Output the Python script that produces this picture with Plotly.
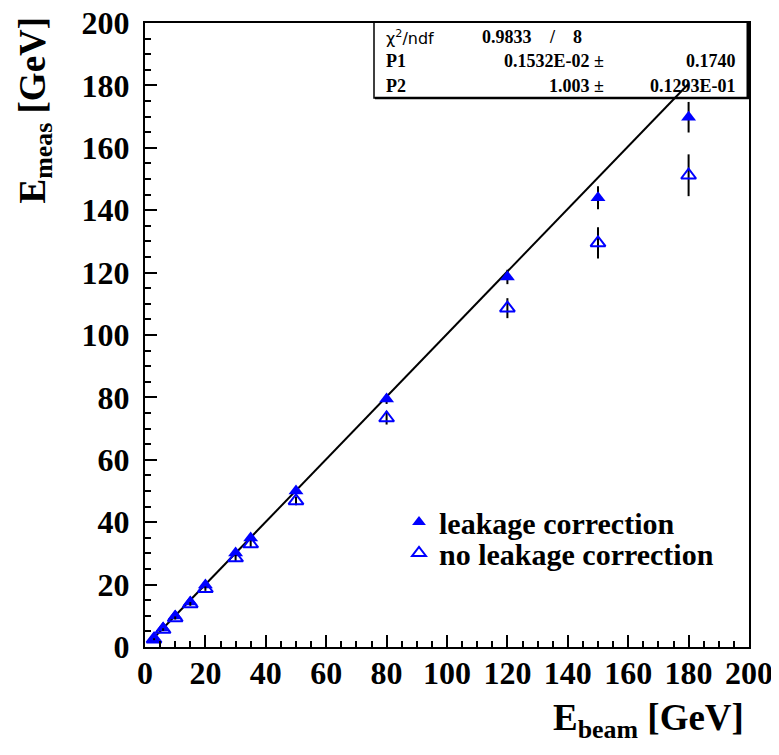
import numpy as np
import plotly.graph_objects as go

# ---- data ----
e_beam = [3, 6, 10, 15, 20, 30, 35, 50, 80, 120, 150, 180]
e_leak = [2.6, 6.1, 9.9, 14.4, 19.9, 30.1, 34.9, 50.0, 79.5, 118.6, 144.0, 169.8]
err_leak = [0.3, 0.3, 0.4, 0.5, 0.6, 0.8, 0.9, 1.1, 1.6, 2.3, 3.7, 4.9]
e_noleak = [2.5, 5.6, 9.3, 13.8, 18.7, 28.5, 33.0, 46.8, 73.4, 108.6, 129.5, 151.2]
err_noleak = [0.3, 0.4, 0.5, 0.6, 0.7, 1.0, 1.1, 1.4, 2.1, 3.2, 5.0, 6.7]

fit_p1 = 0.1532e-02
fit_p2 = 1.003
fit_range = [2, 180]

legend_names = ["leakage correction", "no leakage correction"]
stats_rows = [
    ["χ<sup>2</sup>/ndf", "0.9833", "/", "8"],
    ["P1", "0.1532E-02 ±", "0.1740"],
    ["P2", "1.003 ±", "0.1293E-01"],
]

# ---- layout helpers (screen pixel -> paper) ----
OFF = 8  # page body offset
W, H = 779, 755
L, R, T, B = 145, 749, 23, 647
def px(x):
    return (x - L) / (R - L)
def py(y):
    return (B - y) / (B - T)

SERIF = "Liberation Serif, Times New Roman, Times, serif"
BLUE = "rgb(0,0,255)"

fig = go.Figure()

fx = np.linspace(fit_range[0], fit_range[1], 50)
fig.add_trace(go.Scatter(x=fx, y=fit_p1 + fit_p2 * fx, mode="lines",
                         line=dict(color="black", width=2), showlegend=False,
                         hoverinfo="skip"))

fig.add_trace(go.Scatter(
    x=e_beam, y=e_leak, mode="markers", name=legend_names[0], legend="legend",
    marker=dict(symbol="triangle-up", size=13, color=BLUE),
    error_y=dict(type="data", array=err_leak, color="black", thickness=2, width=0),
))
fig.add_trace(go.Scatter(
    x=e_beam, y=e_noleak, mode="markers", name=legend_names[1], legend="legend2",
    marker=dict(symbol="triangle-up-open", size=13, color=BLUE,
                line=dict(width=2, color=BLUE)),
    error_y=dict(type="data", array=err_noleak, color="black", thickness=2, width=0),
))

axis_common = dict(
    range=[0, 200], dtick=20, ticks="inside", ticklen=12, tickwidth=1.5,
    tickcolor="black", showline=True, linecolor="black", linewidth=2,
    mirror=True, showgrid=False, zeroline=False, automargin=False,
    ticklabeloverflow="allow",
    tickfont=dict(family=SERIF, size=32, color="black", weight="bold"),
    minor=dict(dtick=5, ticks="inside", ticklen=6, tickwidth=1.5, tickcolor="black"),
)

legend_common = dict(xanchor="left", yanchor="middle", bgcolor="rgba(0,0,0,0)",
                     itemsizing="constant",
                     font=dict(family=SERIF, size=30, color="black", weight="bold"))

fig.update_layout(
    width=W, height=H,
    margin=dict(l=L - OFF, r=W - (R - OFF), t=T - OFF, b=H - (B - OFF), autoexpand=False),
    paper_bgcolor="white", plot_bgcolor="white",
    xaxis=dict(**axis_common, ticklabelstandoff=-3),
    yaxis=dict(**axis_common, ticklabelstandoff=7),
    legend=dict(x=px(399), y=py(522), **legend_common),
    legend2=dict(x=px(399), y=py(553), **legend_common),
)

# stats box
fig.add_shape(type="rect", xref="paper", yref="paper",
              x0=px(374), x1=px(748), y0=py(98), y1=py(22),
              line=dict(color="black", width=1.5), fillcolor="white", layer="below")
fig.add_shape(type="line", xref="paper", yref="paper",
              x0=px(748), x1=px(748), y0=py(99), y1=py(23),
              line=dict(color="black", width=3))
fig.add_shape(type="line", xref="paper", yref="paper",
              x0=px(375), x1=px(749), y0=py(98), y1=py(98),
              line=dict(color="black", width=2.5))

bold = dict(family=SERIF, size=18, color="black", weight="bold")
rows_y = [37, 61, 86]
def stat(xp, yp, text, anchor, font):
    fig.add_annotation(x=px(xp), y=py(yp), xref="paper", yref="paper", text=text,
                       showarrow=False, xanchor=anchor, yanchor="middle", font=font)

stat(384, rows_y[0], stats_rows[0][0], "left",
     dict(family="DejaVu Sans", size=16, color="black"))
stat(480, rows_y[0], stats_rows[0][1], "left", bold)
stat(552, rows_y[0], stats_rows[0][2], "center", bold)
stat(577, rows_y[0], stats_rows[0][3], "center", bold)
for i in (1, 2):
    stat(384, rows_y[i], stats_rows[i][0], "left", bold)
    stat(606, rows_y[i], stats_rows[i][1], "right", bold)
    stat(738, rows_y[i], stats_rows[i][2], "right", bold)

# axis titles
title_font = dict(family=SERIF, size=37, color="black", weight="bold")
fig.add_annotation(x=px(746), y=py(720), xref="paper", yref="paper",
                   text="E<sub>beam</sub> [GeV]", showarrow=False,
                   xanchor="right", yanchor="middle", font=title_font)
fig.add_annotation(x=px(35), y=py(15), xref="paper", yref="paper",
                   text="E<sub>meas</sub> [GeV]", showarrow=False, textangle=-90,
                   xanchor="center", yanchor="top", font=title_font)

fig.write_html("out.html")
